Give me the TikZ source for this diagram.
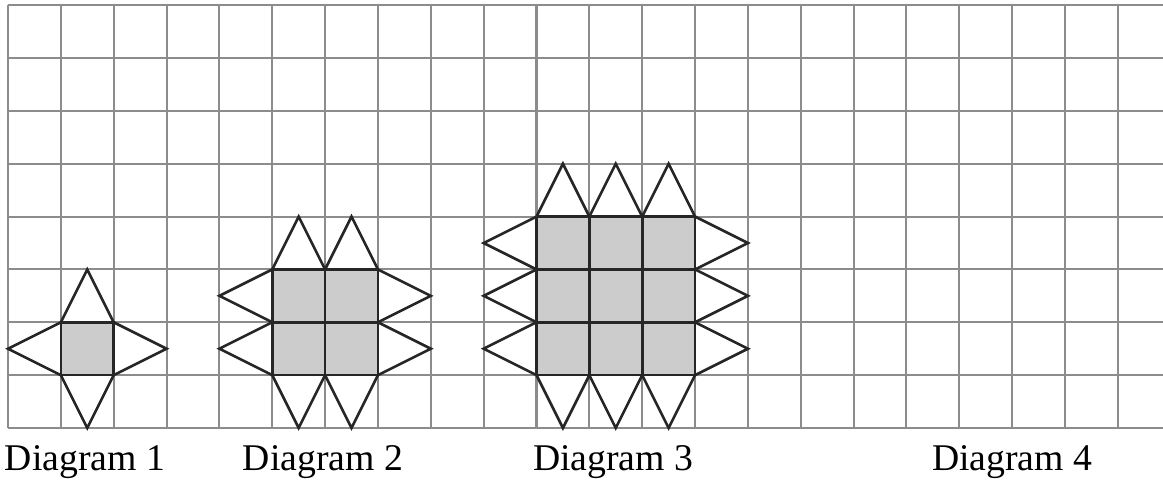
\documentclass[tikz,border=0pt]{standalone}
\usepackage{fontspec}
\setmainfont{Liberation Serif}
\begin{document}
\begin{tikzpicture}[x=1cm,y=1cm,
  gridline/.style={draw=black!45,line width=1.1pt},
  outl/.style={draw=black!85,line width=1.4pt,line join=miter},
  cellfill/.style={fill=black!20},
  lbl/.style={font=\fontsize{20.3}{24}\selectfont,anchor=base,inner sep=0pt}]
\useasboundingbox (-0.151,-1.003) rectangle (21.854,8.098);
% grid
\foreach \i in {0,...,21} \draw[gridline] (\i,0) -- (\i,8);
\foreach \j in {0,...,8} \draw[gridline] (0,\j) -- (21.854,\j);
% Diagram 1
\fill[cellfill] (1,1) rectangle (2,2);
\draw[outl] (1,1) rectangle (2,2);
\draw[outl] (1,2) -- (1.5,3) -- (2,2);
\draw[outl] (1,1) -- (1.5,0) -- (2,1);
\draw[outl] (1,1) -- (0,1.5) -- (1,2);
\draw[outl] (2,1) -- (3,1.5) -- (2,2);
% Diagram 2
\fill[cellfill] (5,1) rectangle (7,3);
\draw[outl] (5,1) grid (7,3);
\foreach \k in {0,1} {
  \draw[outl] (5+\k,3) -- (5.5+\k,4) -- (6+\k,3);
  \draw[outl] (5+\k,1) -- (5.5+\k,0) -- (6+\k,1);
  \draw[outl] (5,1+\k) -- (4,1.5+\k) -- (5,2+\k);
  \draw[outl] (7,1+\k) -- (8,1.5+\k) -- (7,2+\k);
}
% Diagram 3
\fill[cellfill] (10,1) rectangle (13,4);
\draw[outl] (10,1) grid (13,4);
\foreach \k in {0,1,2} {
  \draw[outl] (10+\k,4) -- (10.5+\k,5) -- (11+\k,4);
  \draw[outl] (10+\k,1) -- (10.5+\k,0) -- (11+\k,1);
  \draw[outl] (10,1+\k) -- (9,1.5+\k) -- (10,2+\k);
  \draw[outl] (13,1+\k) -- (14,1.5+\k) -- (13,2+\k);
}
% labels
\node[lbl] (d1) at (1.457,-0.795) {Diagram 1};
\node[lbl] (d2) at (5.96,-0.795) {Diagram 2};
\node[lbl] (d3) at (11.45,-0.795) {Diagram 3};
\node[lbl] (d4) at (19.0,-0.795) {Diagram 4};
\end{tikzpicture}
\end{document}
